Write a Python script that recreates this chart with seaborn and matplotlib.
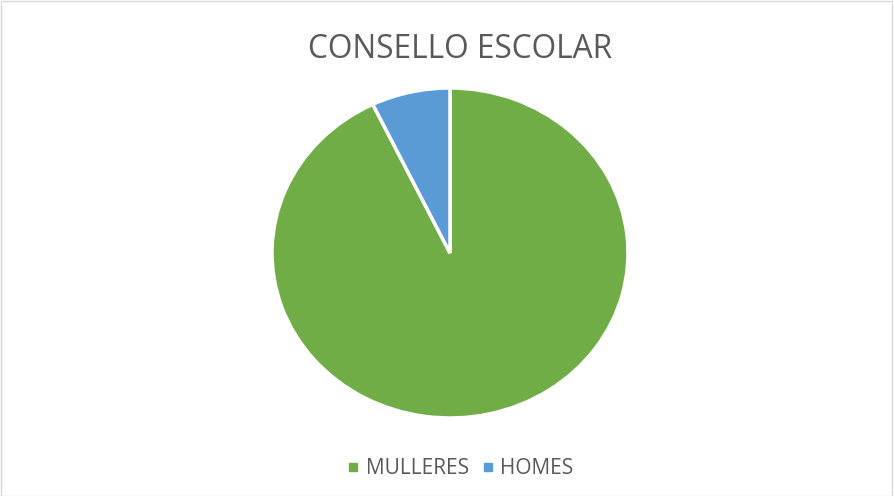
import matplotlib
matplotlib.use("Agg")
import matplotlib.pyplot as plt
import seaborn as sns
from matplotlib.lines import Line2D
from matplotlib.patches import Rectangle

sns.set_theme(style="white")
plt.rcParams['font.family'] = ['Open Sans', 'DejaVu Sans']

title = "CONSELLO ESCOLAR"
categories = ["MULLERES", "HOMES"]
values = [13, 1]
colors = ["#70AD47", "#5B9BD5"]

fig = plt.figure(figsize=(8.94, 4.96), dpi=100)
fig.patch.set_facecolor("white")
fig.add_artist(Rectangle((0.001, 0.001), 0.997, 0.997, transform=fig.transFigure,
                         fill=False, edgecolor="#D9D9D9", linewidth=1))

ax = fig.add_axes([272/894, 78/496, 356/894, 330/496])
wedges, _ = ax.pie(values, colors=colors, startangle=90, counterclock=False,
                   wedgeprops=dict(edgecolor="white", linewidth=2.5))
ax.set_aspect("auto")
ax.set_xlim(-1, 1)
ax.set_ylim(-1, 1)
ax.axis("off")

fig.text(460/894, 1 - 50/496, title, ha="center", va="center", fontsize=22.8, color="#595959")

handles = [Line2D([], [], marker="s", linestyle="none", markersize=5.8,
                  markerfacecolor=c, markeredgecolor=c) for c in colors]
fig.legend(handles, categories, loc="center", bbox_to_anchor=(458/894, 1 - 469/496),
           ncol=2, frameon=False, fontsize=15, labelcolor="#595959",
           handletextpad=0.1, columnspacing=0.4, handlelength=1.0)

fig.savefig("out.png", dpi=100)
